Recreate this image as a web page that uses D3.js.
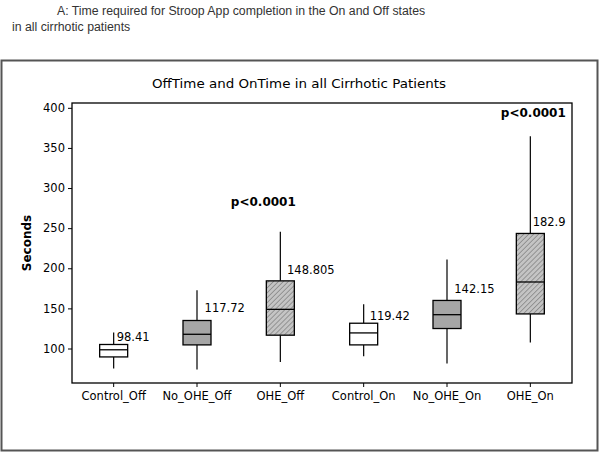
<!DOCTYPE html>
<html><head><meta charset="utf-8">
<script src="https://cdn.jsdelivr.net/npm/d3@7"></script>
<style>body{margin:0;background:#fff}svg{display:block}</style>
</head><body>
<script>
// ---- data ----
const categories = ["Control_Off","No_OHE_Off","OHE_Off","Control_On","No_OHE_On","OHE_On"];
const whiskerLow  = [75, 73.8, 83.3, 90.4, 81.3, 107.5];
const q1          = [89.5, 104.5, 116.6, 104.5, 124.9, 143.1];
const median      = [98.41, 117.72, 148.805, 119.42, 142.15, 182.9];
const q3          = [105, 134.9, 184.3, 131.5, 159.9, 243.4];
const whiskerHigh = [119.9, 172.7, 245.4, 155.2, 211, 364.7];
const medianLabels = ["98.41","117.72","148.805","119.42","142.15","182.9"];
const groupType = ["control","noohe","ohe","control","noohe","ohe"];
const yTicks = [100,150,200,250,300,350,400];
const pLabels = [{text:"p<0.0001", cat:"OHE_Off"},{text:"p<0.0001", cat:"OHE_On"}];

// ---- layout ----
(function(){
const W=600,H=453;
const svg=d3.select("body").append("svg").attr("width",W).attr("height",H);
const defs=svg.append("defs");
const pat=defs.append("pattern").attr("id","hatch").attr("patternUnits","userSpaceOnUse")
  .attr("width",3.5).attr("height",3.5).attr("patternTransform","rotate(45)");
pat.append("rect").attr("width",3.5).attr("height",3.5).attr("fill","#c4c4c4");
pat.append("line").attr("x1",0).attr("y1",0).attr("x2",0).attr("y2",3.5).attr("stroke","#6a6a6a").attr("stroke-width",1.1);

// header text
svg.append("text").attr("x",57).attr("y",15).attr("font-family","Liberation Sans, Arial, sans-serif")
  .attr("font-size",12.3).attr("fill","#333").text("A: Time required for Stroop App completion in the On and Off states");
svg.append("text").attr("x",12).attr("y",31).attr("font-family","Liberation Sans, Arial, sans-serif")
  .attr("font-size",12.3).attr("fill","#333").text("in all cirrhotic patients");

// outer frame
svg.append("rect").attr("x",1.5).attr("y",60.5).attr("width",596).attr("height",390)
  .attr("fill","none").attr("stroke","#555").attr("stroke-width",2);

const pl=72,pr=572,pt=103,pb=383;
const x=d3.scaleBand().domain(categories).range([pl,pr]).padding(0);
const y=d3.scaleLinear().domain([57,406]).range([pb,pt]);
const cx=c=>x(c)+x.bandwidth()/2;
const bw=28;
const font="DejaVu Sans, Verdana, sans-serif";

// title
svg.append("text").attr("x",299).attr("y",88).attr("text-anchor","middle")
  .attr("font-family",font).attr("font-size",12.5).attr("textLength",294).attr("lengthAdjust","spacingAndGlyphs")
  .text("OffTime and OnTime in all Cirrhotic Patients");

// plot frame
svg.append("rect").attr("x",pl).attr("y",pt).attr("width",pr-pl).attr("height",pb-pt)
  .attr("fill","none").attr("stroke","#000").attr("stroke-width",1.3);

// axes
const ya=svg.append("g").attr("transform",`translate(${pl},0)`)
  .call(d3.axisLeft(y).tickValues(yTicks).tickSize(4).tickPadding(3));
ya.select(".domain").remove();
ya.selectAll("text").attr("font-family",font).attr("font-size",11.5).attr("fill","#000");
ya.selectAll("line").attr("stroke","#000");
const xa=svg.append("g").attr("transform",`translate(0,${pb})`)
  .call(d3.axisBottom(x).tickSize(4).tickPadding(5));
xa.select(".domain").remove();
xa.selectAll("text").attr("font-family",font).attr("font-size",11.5).attr("fill","#000");
xa.selectAll("line").attr("stroke","#000");

svg.append("text").attr("transform",`translate(31,243) rotate(-90)`).attr("text-anchor","middle")
  .attr("font-family",font).attr("font-size",12).attr("font-weight","bold").text("Seconds");

// boxes
const fills={control:"#ffffff",noohe:"#a6a6a6",ohe:"url(#hatch)"};
const labelDx=[3,7.6,6.7,6,7.3,2.3];
const labelDy=[-3,-9,-6.6,-3,-7.7,-7.4];
categories.forEach((c,i)=>{
  const g=svg.append("g");
  const X=cx(c);
  g.append("line").attr("x1",X).attr("x2",X).attr("y1",y(whiskerLow[i])).attr("y2",y(q1[i])).attr("stroke","#000").attr("stroke-width",1.2);
  g.append("line").attr("x1",X).attr("x2",X).attr("y1",y(q3[i])).attr("y2",y(whiskerHigh[i])).attr("stroke","#000").attr("stroke-width",1.2);
  g.append("rect").attr("x",X-bw/2).attr("y",y(q3[i])).attr("width",bw).attr("height",y(q1[i])-y(q3[i]))
    .attr("fill",fills[groupType[i]]).attr("stroke","#000").attr("stroke-width",1.3);
  g.append("line").attr("x1",X-bw/2).attr("x2",X+bw/2).attr("y1",y(median[i])).attr("y2",y(median[i])).attr("stroke","#000").attr("stroke-width",1.3);
  g.append("text").attr("x",X+labelDx[i]).attr("y",y(q3[i])+labelDy[i])
    .attr("font-family",font).attr("font-size",11.5).text(medianLabels[i]);
});

// p-values
const pPos=[{dx:-17,y:206},{dx:3,y:117}];
pLabels.forEach((p,i)=>{
  svg.append("text").attr("x",cx(p.cat)+pPos[i].dx).attr("y",pPos[i].y).attr("text-anchor","middle")
    .attr("font-family",font).attr("font-size",12).attr("font-weight","bold").text(p.text);
});
})();
</script>
</body></html>
